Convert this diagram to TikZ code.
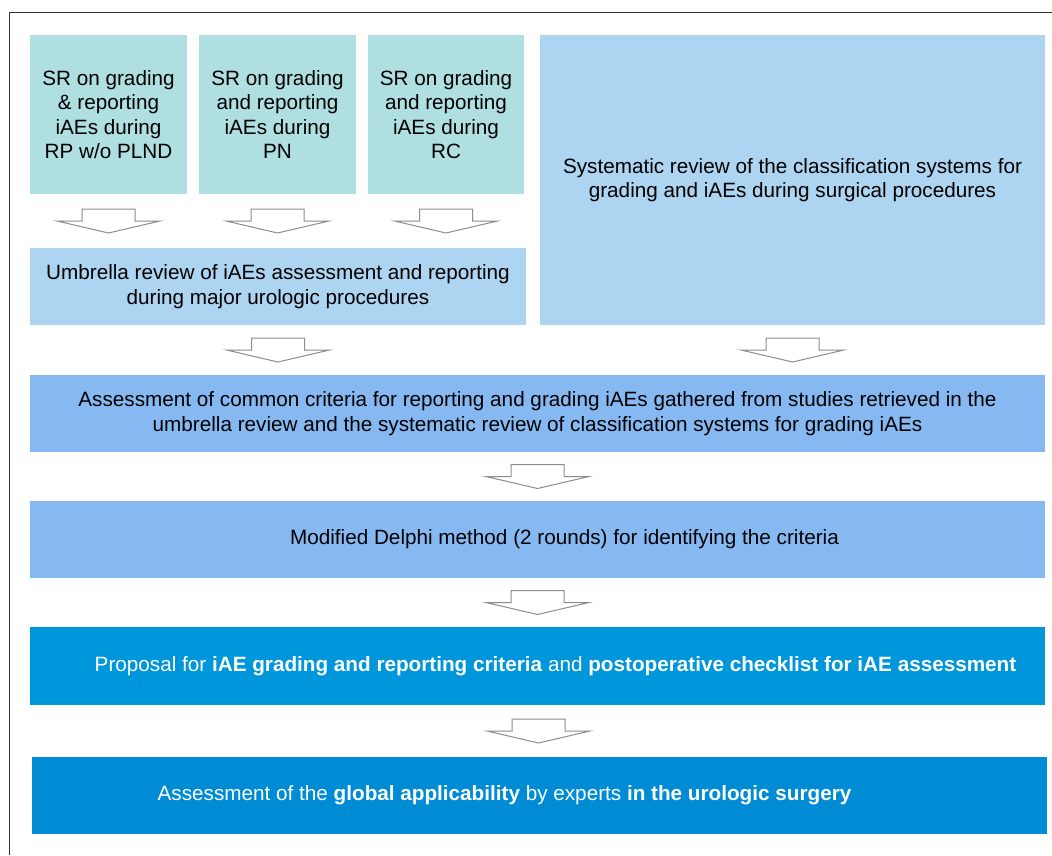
\documentclass[tikz,border=0pt]{standalone}
\usepackage{fontspec}
\setmainfont{Liberation Sans}
\usetikzlibrary{calc}
\definecolor{srfill}{HTML}{AFDFE0}
\definecolor{revfill}{HTML}{ADD4F0}
\definecolor{midfill}{HTML}{86B9F2}
\definecolor{propfill}{HTML}{0096DB}
\definecolor{finfill}{HTML}{008BD5}
\definecolor{arrowgray}{HTML}{8C8C8C}
\definecolor{framegray}{HTML}{333333}
\begin{document}
\begin{tikzpicture}[x=1pt,y=-1pt,
  txt/.style={font=\fontsize{20.7}{24.6}\selectfont, align=center},
  box/.style={txt, anchor=north west, inner sep=0pt, outer sep=0pt},
  arrowline/.style={draw=arrowgray, fill=white, line width=1pt, line join=miter},
  blockarrow/.pic={\path[arrowline] (-26.5,-12) -- (26.5,-12) -- (26.5,0) -- (51.5,0)
      -- (0,12) -- (-51.5,0) -- (-26.5,0) -- cycle;}
]
\useasboundingbox (0,0) rectangle (1052,855);

% outer frame (open on the right and at the bottom)
\draw[framegray, line width=1.5pt] (9.5,855) -- (9.5,12.5) -- (1052,12.5);

% first row: three systematic reviews and the classification review
\node[box, fill=srfill, minimum width=157, minimum height=159] (sr1) at (30,35)
  {SR on grading\\ \& reporting\\ iAEs during\\ RP w/o PLND};
\node[box, fill=srfill, minimum width=157, minimum height=159] (sr2) at (199,35)
  {SR on grading\\ and reporting\\ iAEs during\\ PN};
\node[box, fill=srfill, minimum width=156, minimum height=159] (sr3) at (368,35)
  {SR on grading\\ and reporting\\ iAEs during\\ RC};
\node[box, fill=revfill, minimum width=505, minimum height=290] (sys) at (540,35)
  {Systematic review of the classification systems for\\ grading and iAEs during surgical procedures};

% umbrella review
\node[box, fill=revfill, minimum width=496, minimum height=77] (umb) at (30,248)
  {Umbrella review of iAEs assessment and reporting\\ during major urologic procedures};

% assessment of common criteria
\node[box, fill=midfill, minimum width=1015, minimum height=77] (assess) at (30,375)
  {Assessment of common criteria for reporting and grading iAEs gathered from studies retrieved in the\\
   umbrella review and the systematic review of classification systems for grading iAEs};

% Delphi rounds
\node[box, fill=midfill, minimum width=1015, minimum height=77,
  label={[txt, xshift=27pt]center:Modified Delphi method (2 rounds) for identifying the criteria}] (delphi) at (30,501) {};

% proposal
\node[box, fill=propfill, minimum width=1015, minimum height=78,
  label={[txt, text=white, xshift=18pt]center:Proposal for \textbf{iAE grading and reporting criteria} and \textbf{postoperative checklist for iAE assessment}}] (prop) at (30,627) {};

% global applicability
\node[box, fill=finfill, minimum width=1015, minimum height=77,
  label={[txt, text=white, xshift=-35pt]center:Assessment of the \textbf{global applicability} by experts \textbf{in the urologic surgery}}] (final) at (32,757) {};

% block arrows between the stages
\pic at ($(sr1.south)!0.5!(sr1.south |- umb.north)$) {blockarrow};
\pic at ($(sr2.south)!0.5!(sr2.south |- umb.north)$) {blockarrow};
\pic at ($(sr3.south)!0.5!(sr3.south |- umb.north)$) {blockarrow};
\pic at ($(umb.south)!0.5!(umb.south |- assess.north)$) {blockarrow};
\pic at ($(sys.south)!0.5!(sys.south |- assess.north)$) {blockarrow};
\pic at ($(assess.south)!0.5!(delphi.north)$) {blockarrow};
\pic at ($(delphi.south)!0.5!(prop.north)$) {blockarrow};
\pic at ($(prop.south)!0.5!(final.north)$) {blockarrow};
\end{tikzpicture}
\end{document}
